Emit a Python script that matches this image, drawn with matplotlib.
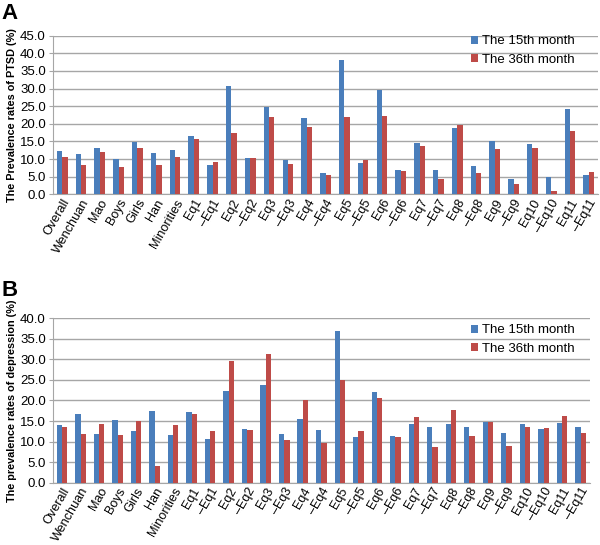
import matplotlib
matplotlib.use("Agg")
import matplotlib.pyplot as plt
import numpy as np

plt.rcParams['font.family'] = ['Liberation Sans', 'DejaVu Sans']

categories = ["Overall", "Wenchuan", "Mao", "Boys", "Girls", "Han", "Minorities",
              "Eq1", "–Eq1", "Eq2", "–Eq2", "Eq3", "–Eq3", "Eq4", "–Eq4",
              "Eq5", "–Eq5", "Eq6", "–Eq6", "Eq7", "–Eq7", "Eq8", "–Eq8",
              "Eq9", "–Eq9", "Eq10", "–Eq10", "Eq11", "–Eq11"]

ptsd_15 = [12.3, 11.35, 13.05, 9.9, 14.7, 11.8, 12.6, 16.4, 8.3, 30.8, 10.3, 24.8, 9.8,
           21.6, 6.0, 38.1, 9.0, 29.6, 6.9, 14.6, 6.9, 18.9, 8.0, 15.2, 4.4, 14.3, 4.8, 24.1, 5.6]
ptsd_36 = [10.5, 8.3, 12.1, 7.7, 13.15, 8.2, 10.7, 15.7, 9.2, 17.5, 10.3, 21.8, 8.7,
           19.2, 5.5, 21.8, 9.7, 22.3, 6.7, 13.8, 4.2, 19.6, 6.0, 12.9, 2.9, 13.2, 1.0, 18.1, 6.3]

dep_15 = [13.95, 16.7, 11.9, 15.2, 12.7, 17.5, 11.7, 17.1, 10.6, 22.4, 13.1, 23.8, 11.95,
          15.6, 12.8, 36.9, 11.0, 22.1, 11.35, 14.2, 13.5, 14.35, 13.6, 14.7, 12.2, 14.3, 13.05, 14.6, 13.6]
dep_36 = [13.5, 11.9, 14.35, 11.7, 15.0, 4.1, 13.95, 16.8, 12.5, 29.5, 12.8, 31.3, 10.4,
          20.0, 9.7, 25.1, 12.65, 20.6, 11.1, 16.0, 8.6, 17.7, 11.4, 14.85, 9.0, 13.6, 13.2, 16.3, 12.0]

series_names = ["The 15th month", "The 36th month"]
blue = "#4A7EBB"
red = "#BE4B48"
grid_c = "#A6A6A6"

fig = plt.figure(figsize=(6.0, 5.45), dpi=100)

def draw(ax, v15, v36, ymax, ylabel, legend_anchor):
    x = np.arange(len(categories))
    w = 0.286
    ax.bar(x - w/2, v15, width=w, color=blue, label=series_names[0], zorder=3)
    ax.bar(x + w/2, v36, width=w, color=red, label=series_names[1], zorder=3)
    ax.set_xlim(-0.5, len(categories) - 0.5)
    ax.set_ylim(0, ymax)
    ticks = np.arange(0, ymax + 0.1, 5)
    ax.set_yticks(ticks)
    ax.set_yticklabels([f"{t:.1f}" for t in ticks], fontsize=9.5)
    ax.yaxis.grid(True, color=grid_c, lw=1.0, zorder=0)
    ax.set_axisbelow(True)
    ax.set_xticks(x)
    ax.set_xticklabels(categories, rotation=60, ha='right', rotation_mode='anchor', fontsize=9.1)
    ax.tick_params(axis='x', which='major', length=0, pad=2)
    ax.tick_params(axis='y', length=3, color=grid_c, pad=2)
    for s in ['top', 'right']:
        ax.spines[s].set_visible(False)
    ax.spines['left'].set_color(grid_c)
    ax.spines['bottom'].set_color(grid_c)
    ax.set_ylabel(ylabel, fontsize=7.8, fontweight='bold', labelpad=2)
    ax.legend(loc='upper left', bbox_to_anchor=legend_anchor, bbox_transform=fig.transFigure,
              frameon=False, fontsize=9.5, handlelength=0.55, handleheight=0.55,
              handletextpad=0.3, labelspacing=0.5, borderaxespad=0, borderpad=0)

axA = fig.add_axes([0.088, 0.6435, 0.909, 0.291])
draw(axA, ptsd_15, ptsd_36, 45, "The Prevalence rates of PTSD (%)", (0.785, 0.935))

axB = fig.add_axes([0.088, 0.1143, 0.895, 0.3017])
draw(axB, dep_15, dep_36, 40, "The prevalence rates of depression (%)", (0.785, 0.405))

fig.text(0.003, 0.995, "A", fontsize=16, fontweight='bold', va='top', ha='left')
fig.text(0.003, 0.487, "B", fontsize=16, fontweight='bold', va='top', ha='left')

fig.savefig("out.png", dpi=100)
